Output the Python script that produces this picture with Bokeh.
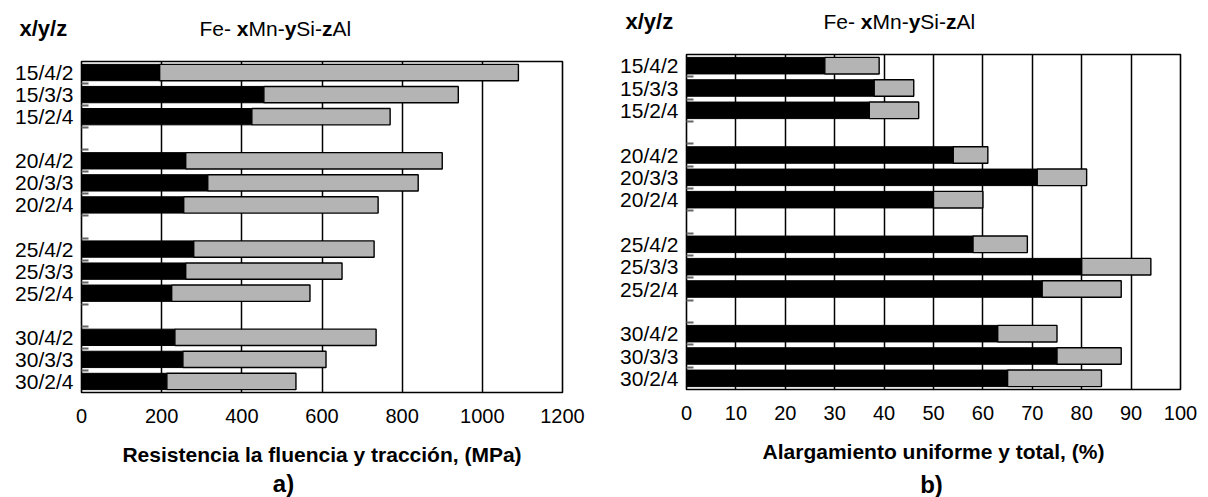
from bokeh.plotting import figure
from bokeh.models import Range1d, FixedTicker, Label, ColumnDataSource
from bokeh.layouts import row, column
from bokeh.embed import file_html
from bokeh.resources import INLINE

# ---- data ----
labels = ["15/4/2", "15/3/3", "15/2/4",
          "20/4/2", "20/3/3", "20/2/4",
          "25/4/2", "25/3/3", "25/2/4",
          "30/4/2", "30/3/3", "30/2/4"]
yield_mpa = [195, 455, 425, 260, 315, 255, 280, 260, 225, 233, 253, 213]
tensile_mpa = [1090, 940, 770, 900, 840, 740, 730, 650, 570, 735, 610, 535]
uniform_pct = [28, 38, 37, 54, 71, 50, 58, 80, 72, 63, 75, 65]
total_pct = [39, 46, 47, 61, 81, 60, 69, 94, 88, 75, 88, 84]
ticks_a = [0, 200, 400, 600, 800, 1000, 1200]
ticks_b = [0, 10, 20, 30, 40, 50, 60, 70, 80, 90, 100]
title_pieces = [("Fe- ", False), ("x", True), ("Mn-", False), ("y", True),
                ("Si-", False), ("z", True), ("Al", False)]

FONT = "Liberation Sans"
GRAY = "#b4b4b4"
HEAD_H = 45
FOOT_H = 28
TITLE_SIZE = 21

# Arial-like advance widths (per 1000 em) for title pieces
W_REG = {"F": 611, "e": 556, "-": 333, " ": 278, "M": 833, "n": 556,
         "S": 667, "i": 222, "A": 667, "l": 222}
W_BOLD = {"x": 556, "y": 556, "z": 500}


def text_width(s, size, bold=False):
    tbl = W_BOLD if bold else W_REG
    return sum(tbl.get(c, 556) for c in s) * size / 1000.0


# slot positions: three bars per group plus one empty slot between groups
slots = [(i // 3) * 4 + (i % 3) for i in range(len(labels))]


def text_fig(width, height):
    f = figure(width=width, height=height, x_range=Range1d(0, width), y_range=Range1d(0, height),
               output_backend="svg", toolbar_location=None, x_axis_type=None, y_axis_type=None,
               min_border_left=0, min_border_right=0, min_border_top=0, min_border_bottom=0,
               frame_align=False)
    f.outline_line_color = None
    f.background_fill_color = "white"
    f.border_fill_color = "white"
    return f


def header(width, xyz_x, sub_x, yc):
    f = text_fig(width, HEAD_H)
    f.add_layout(Label(x=xyz_x, y=HEAD_H - yc, text="x/y/z", text_font=FONT, text_font_style="bold",
                       text_font_size="22px", text_baseline="middle", text_align="left",
                       text_color="black"))
    off = 0.0
    for txt, bold in title_pieces:
        f.add_layout(Label(x=sub_x + off, y=HEAD_H - yc, text=txt.strip(), text_font=FONT,
                           text_font_style="bold" if bold else "normal",
                           text_font_size=f"{TITLE_SIZE}px", text_baseline="middle",
                           text_align="left", text_color="black"))
        off += text_width(txt, TITLE_SIZE, bold)
    return f


def footer(width, letter, xc, yc):
    f = text_fig(width, FOOT_H)
    f.add_layout(Label(x=xc, y=FOOT_H - yc, text=letter, text_font=FONT, text_font_style="bold",
                       text_font_size="24px", text_baseline="middle", text_align="center",
                       text_color="black"))
    return f


def chart(vin, vout, ticks, width, frame_l, frame_r, frame_t, frame_b, xlabel):
    xmax = ticks[-1]
    height = 497 - HEAD_H - FOOT_H
    p = figure(width=width, height=height, x_range=Range1d(0, xmax), y_range=Range1d(15, 0),
               output_backend="svg", toolbar_location=None, frame_align=False,
               min_border_left=frame_l, min_border_right=width - frame_r,
               min_border_top=frame_t - HEAD_H, min_border_bottom=(497 - FOOT_H) - frame_b)
    src = ColumnDataSource(dict(y=[s + 0.5 for s in slots], a=vin, b=vout))
    p.hbar(y="y", left=0, right="a", height=0.74, fill_color="black",
           line_color="black", line_width=1, source=src)
    p.hbar(y="y", left="a", right="b", height=0.74, fill_color=GRAY,
           line_color="black", line_width=1.4, source=src)

    p.outline_line_color = "black"
    p.outline_line_width = 1.6
    p.outline_line_alpha = 1
    p.background_fill_color = "white"
    p.border_fill_color = "white"

    p.xaxis.ticker = FixedTicker(ticks=ticks)
    p.xgrid.ticker = FixedTicker(ticks=ticks)
    p.xgrid.grid_line_color = "black"
    p.xgrid.grid_line_width = 1.5
    p.xgrid.grid_line_alpha = 1
    p.ygrid.visible = False

    xa = p.xaxis[0]
    xa.axis_line_color = None
    xa.major_tick_in = 0
    xa.major_tick_out = 0
    xa.minor_tick_line_color = None
    xa.major_label_text_font = FONT
    xa.major_label_text_font_size = "20px"
    xa.major_label_text_color = "black"
    xa.major_label_standoff = 16
    xa.axis_label = xlabel
    xa.axis_label_text_font = FONT
    xa.axis_label_text_font_style = "bold"
    xa.axis_label_text_font_size = "21px"
    xa.axis_label_text_color = "black"
    xa.axis_label_standoff = 17

    ya = p.yaxis[0]
    centers = [s + 0.5 for s in slots]
    ya.ticker = FixedTicker(ticks=centers, minor_ticks=list(range(1, 15)))
    ya.major_label_overrides = {c: lab for c, lab in zip(centers, labels)}
    ya.axis_line_color = None
    ya.major_tick_in = 0
    ya.major_tick_out = 0
    ya.minor_tick_in = 7
    ya.minor_tick_out = 0
    ya.minor_tick_line_color = "#666666"
    ya.minor_tick_line_width = 2
    ya.major_label_text_font = FONT
    ya.major_label_text_font_size = "21px"
    ya.major_label_text_color = "black"
    ya.major_label_standoff = 8
    return p


# panel a) occupies page x 0..600, panel b) 600..1208
col_a = column(header(600, 19, 199, 28),
               chart(yield_mpa, tensile_mpa, ticks_a, 600, 81, 562, 61, 392,
                     "Resistencia la fluencia y tracción, (MPa)"),
               footer(600, "a)", 283, 14))
col_b = column(header(608, 25, 223, 21),
               chart(uniform_pct, total_pct, ticks_b, 608, 86, 580, 54, 389,
                     "Alargamiento uniforme y total, (%)"),
               footer(608, "b)", 331, 15))

layout = row(col_a, col_b)
open("out.html", "w").write(file_html(layout, INLINE))
